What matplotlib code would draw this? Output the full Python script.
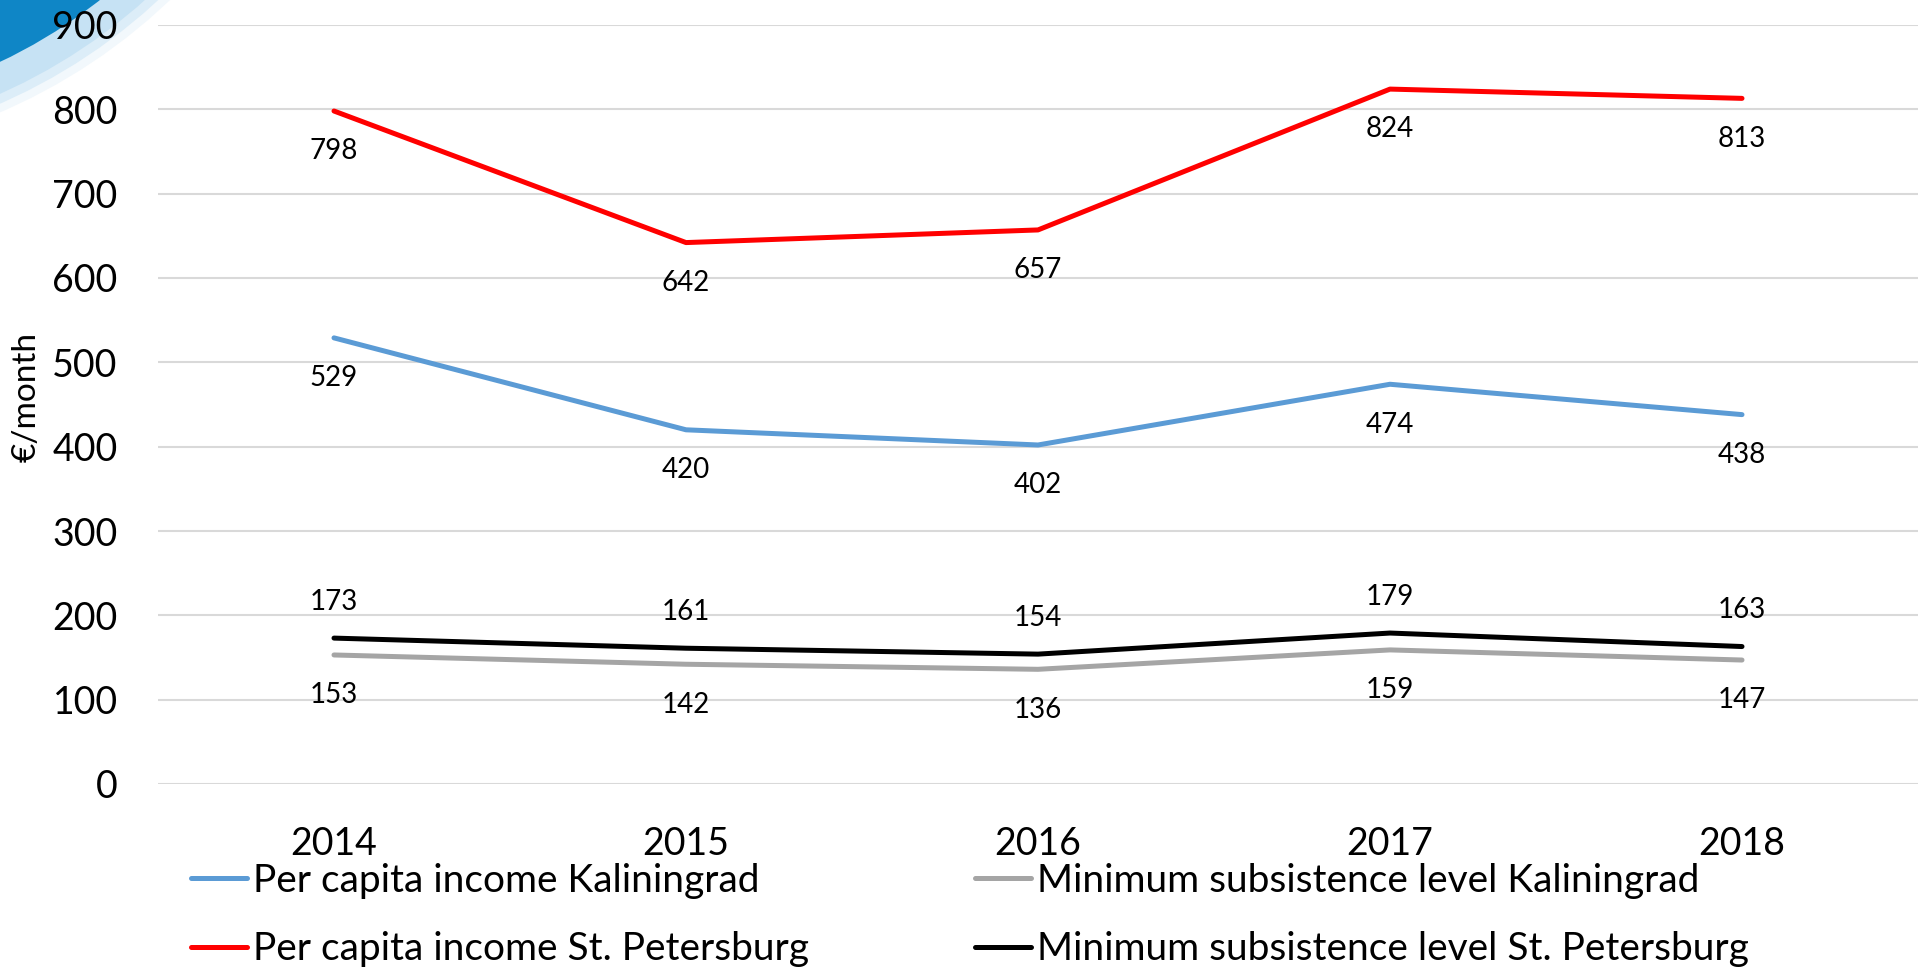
import numpy as np
import matplotlib.pyplot as plt
from matplotlib.patches import Circle

# data
years = ["2014", "2015", "2016", "2017", "2018"]
income_kaliningrad = [529, 420, 402, 474, 438]
income_spb = [798, 642, 657, 824, 813]
subsistence_kaliningrad = [153, 142, 136, 159, 147]
subsistence_spb = [173, 161, 154, 179, 163]

plt.rcParams['font.family'] = ['Lato', 'DejaVu Sans']

W, H = 1918, 971
fig = plt.figure(figsize=(W / 100, H / 100), dpi=100)

# background swoosh in the top-left corner (pixel coords, y down)
bg = fig.add_axes([0, 0, 1, 1], zorder=-1)
bg.set_xlim(0, W)
bg.set_ylim(H, 0)
bg.axis('off')
for r, c in [(574, '#F2F8FC'), (566, '#DCEDF8'), (557, '#C6E2F4'), (528, '#0F86C6')]:
    bg.add_patch(Circle((-226.5, -415), r, fc=c, ec='none'))

ax = fig.add_axes([158 / W, 1 - 784 / H, 1 - 158 / W, (784 - 25) / H])
ax.set_facecolor('none')

x = np.arange(len(years))
series = [
    (income_kaliningrad, '#5B9BD5', 'Per capita income Kaliningrad', -29),
    (income_spb, '#FF0000', 'Per capita income St. Petersburg', -29),
    (subsistence_kaliningrad, '#A5A5A5', 'Minimum subsistence level Kaliningrad', -29),
    (subsistence_spb, '#000000', 'Minimum subsistence level St. Petersburg', 26),
]

lines = {}
for vals, color, label, dy in series:
    ln, = ax.plot(x, vals, color=color, lw=3.6, solid_capstyle='round', label=label, zorder=3)
    lines[label] = ln
    for xi, v in zip(x, vals):
        ax.annotate(str(v), (xi, v), xytext=(0, dy), textcoords='offset points',
                    ha='center', va='center', fontsize=20, color='black')

ax.set_xlim(-0.5, len(years) - 0.5)
ax.set_ylim(0, 900)
ax.set_yticks(np.arange(0, 901, 100))
ax.set_xticks(x)
ax.set_xticklabels(years)
ax.tick_params(axis='y', length=0, pad=29, labelsize=27)
ax.tick_params(axis='x', length=0, pad=30, labelsize=27)
ax.grid(axis='y', color='#D9D9D9', lw=1.5)
ax.set_axisbelow(True)
for s in ax.spines.values():
    s.set_visible(False)

fig.text(27 / W, 1 - 397 / H, '€/month', rotation=90, ha='center', va='center', fontsize=24)

order = ['Per capita income Kaliningrad', 'Per capita income St. Petersburg',
         'Minimum subsistence level Kaliningrad', 'Minimum subsistence level St. Petersburg']
fig.legend([lines[k] for k in order], order, ncol=2, frameon=False, fontsize=28,
           loc='upper left', bbox_to_anchor=(191 / W, 1 - 863 / H),
           borderpad=0, borderaxespad=0, handlelength=1.44, handletextpad=0.15,
           columnspacing=4.27, labelspacing=0.83)

fig.savefig('out.png', dpi=100)
